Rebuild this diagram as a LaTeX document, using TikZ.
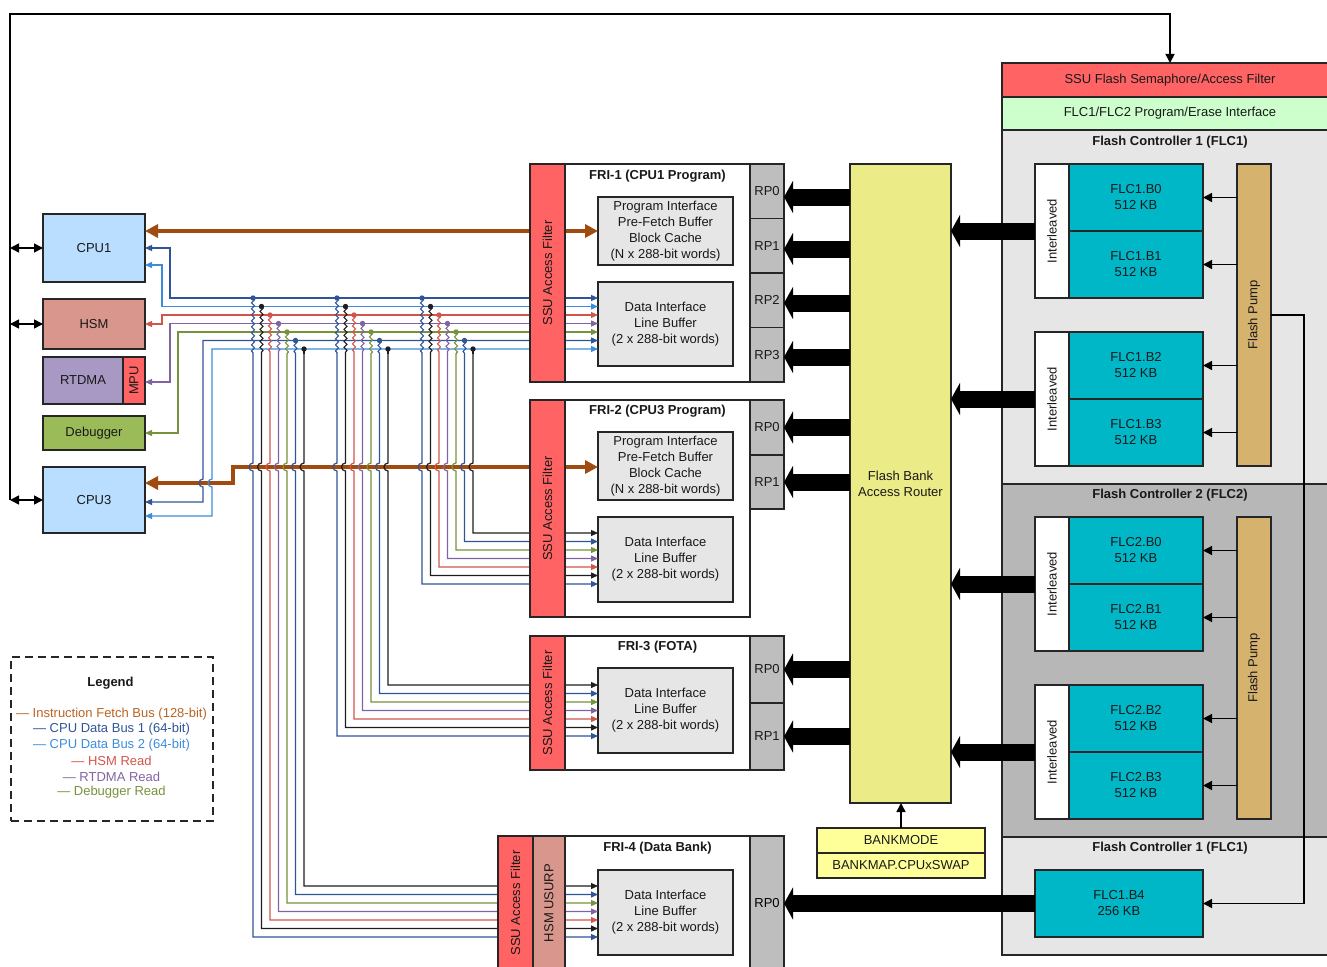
\documentclass[tikz,border=0pt]{standalone}
\usepackage{fontspec}
\setmainfont{Liberation Sans}
\usetikzlibrary{arrows.meta,decorations.pathmorphing}
\definecolor{cSSU}{RGB}{255,99,99}
\definecolor{cPE}{RGB}{204,255,204}
\definecolor{cFLl}{RGB}{230,230,230}
\definecolor{cFLd}{RGB}{183,183,183}
\definecolor{cBank}{RGB}{0,183,200}
\definecolor{cPump}{RGB}{213,178,110}
\definecolor{cRouter}{RGB}{235,235,135}
\definecolor{cBM}{RGB}{255,255,153}
\definecolor{cRP}{RGB}{190,190,190}
\definecolor{cBox}{RGB}{230,230,230}
\definecolor{cCPU}{RGB}{185,222,255}
\definecolor{cHSM}{RGB}{217,150,140}
\definecolor{cRTD}{RGB}{168,152,196}
\definecolor{cDBG}{RGB}{155,187,89}
\definecolor{cBrown}{RGB}{160,75,15}
\definecolor{cBrownT}{RGB}{185,100,35}
\definecolor{cDB}{RGB}{47,85,151}
\definecolor{cLB}{RGB}{60,140,220}
\definecolor{cRed}{RGB}{210,85,75}
\definecolor{cPur}{RGB}{128,100,162}
\definecolor{cGrn}{RGB}{118,146,60}
\definecolor{cBlk}{RGB}{30,30,30}
\newcommand\bx[7]{\node[box,#6,minimum width={#4-#2},minimum height={#5-#3}] (#1) at (#2,#3) {#7};}
\newcommand\busdrop[3]{%
  \foreach \k/\c in {1/cDB,2/cBlk,3/cRed,4/cPur,5/cGrn,6/cDB,7/cBlk}{%
    \pgfmathsetmacro\xx{#1+(\k-1)*8.5}%
    \pgfmathsetmacro\yk{298+(\k-1)*8.5}%
    \pgfmathsetmacro\tt{#2-(\k-1)*8.5}%
    \ifnum\k<7
      \draw[\c,thinw,decorate,decoration={snake,amplitude=1.5pt,segment length=6pt}] (\xx,\yk) -- (\xx,354);
    \else
      \draw[\c,thinw] (\xx,\yk) -- (\xx,354);
    \fi
    \draw[\c,thinw,-{Triangle[length=7pt,width=6pt]}] (\xx,354) -- (\xx,463) arc[start angle=90,end angle=270,radius=4pt] -- (\xx,\tt) -- (#3.west |- 0,\tt);
    \fill[\c] (\xx,\yk) circle[radius=2.7pt];
  }%
}
\begin{document}
\begin{tikzpicture}[x=1pt,y=-1pt,
  font=\fontsize{13}{16}\selectfont,
  box/.style={draw=black!85,line width=1.5pt,inner sep=0pt,outer sep=0pt,align=center,anchor=north west,text=black!90},
  title/.style={font=\fontsize{13}{16}\selectfont\bfseries,inner sep=0pt,text=black!90},
  rot/.style={rotate=90,inner sep=0pt,text=black!90},
  wire/.style={draw=black,line width=1.5pt},
  tip/.style={-{Triangle[length=9pt,width=9pt]}},
  dtip/.style={{Triangle[length=9pt,width=9pt]}-{Triangle[length=9pt,width=9pt]}},
  thinw/.style={line width=1.2pt},
  dthin/.style={thinw,{Triangle[length=7pt,width=6pt]}-{Triangle[length=7pt,width=6pt]}},
  fat/.style={draw=black,line width=17pt,-{Triangle[length=9pt,width=32pt]}},
  fetch/.style={draw=cBrown,line width=4pt,{Triangle[length=13pt,width=13pt]}-{Triangle[length=13pt,width=13pt]}},
  leg/.style={inner sep=0pt,font=\fontsize{13}{16}\selectfont}]
\useasboundingbox (0,0) rectangle (1327,966);

% ---------- right side: flash controllers ----------
\bx{ssuflash}{1002}{63}{1338}{97}{fill=cSSU}{SSU Flash Semaphore/Access Filter}
\bx{peif}{1002}{97}{1338}{130}{fill=cPE}{FLC1/FLC2 Program/Erase Interface}
\bx{flc1}{1002}{130}{1338}{484}{fill=cFLl}{}
\bx{flc2}{1002}{484}{1338}{837}{fill=cFLd}{}
\bx{flc1b}{1002}{837}{1338}{955}{fill=cFLl}{}
\node[title] (flc1t) at (1170,142) {Flash Controller 1 (FLC1)};
\node[title] (flc2t) at (1170,495) {Flash Controller 2 (FLC2)};
\node[title] (flc1bt) at (1170,848) {Flash Controller 1 (FLC1)};

\bx{il1}{1035}{164}{1069}{298}{fill=white}{}
\bx{il2}{1035}{332}{1069}{466}{fill=white}{}
\bx{il3}{1035}{517}{1069}{651}{fill=white}{}
\bx{il4}{1035}{685}{1069}{819}{fill=white}{}
\node[rot] (il1t) at (il1) {Interleaved};
\node[rot] (il2t) at (il2) {Interleaved};
\node[rot] (il3t) at (il3) {Interleaved};
\node[rot] (il4t) at (il4) {Interleaved};

\bx{b10}{1069}{164}{1203}{231}{fill=cBank}{FLC1.B0\\512 KB}
\bx{b11}{1069}{231}{1203}{298}{fill=cBank}{FLC1.B1\\512 KB}
\bx{b12}{1069}{332}{1203}{399}{fill=cBank}{FLC1.B2\\512 KB}
\bx{b13}{1069}{399}{1203}{466}{fill=cBank}{FLC1.B3\\512 KB}
\bx{b20}{1069}{517}{1203}{584}{fill=cBank}{FLC2.B0\\512 KB}
\bx{b21}{1069}{584}{1203}{651}{fill=cBank}{FLC2.B1\\512 KB}
\bx{b22}{1069}{685}{1203}{752}{fill=cBank}{FLC2.B2\\512 KB}
\bx{b23}{1069}{752}{1203}{819}{fill=cBank}{FLC2.B3\\512 KB}
\bx{b4}{1035}{870}{1203}{937}{fill=cBank}{FLC1.B4\\256 KB}

\bx{pump1}{1237}{164}{1271}{466}{fill=cPump}{}
\bx{pump2}{1237}{517}{1271}{819}{fill=cPump}{}
\node[rot] (pump1t) at (pump1) {Flash Pump};
\node[rot] (pump2t) at (pump2) {Flash Pump};
\foreach \b in {b10,b11,b12,b13}{\draw[wire,tip] (pump1.west |- \b.east) -- (\b.east);}
\foreach \b in {b20,b21,b22,b23}{\draw[wire,tip] (pump2.west |- \b.east) -- (\b.east);}
\coordinate (pl1) at (1304,315);
\draw[wire,tip] (pump1.east) -- (pl1) -- (pl1 |- b4.east) -- (b4.east);

% ---------- router ----------
\bx{router}{850}{164}{951}{803}{fill=cRouter}{Flash Bank\\Access Router}
\bx{bankmode}{817}{828}{985}{853}{fill=cBM}{BANKMODE}
\bx{bankmap}{817}{853}{985}{878}{fill=cBM}{BANKMAP.CPUxSWAP}
\draw[wire,tip] (bankmode.north) -- (bankmode.north |- router.south);

% ---------- FRI bodies ----------
\bx{fri1}{565}{164}{750}{382}{fill=white}{}
\bx{f1rp0}{750}{164}{784}{218.5}{fill=cRP}{RP0}
\bx{f1rp1}{750}{218.5}{784}{273}{fill=cRP}{RP1}
\bx{f1rp2}{750}{273}{784}{327.5}{fill=cRP}{RP2}
\bx{f1rp3}{750}{327.5}{784}{382}{fill=cRP}{RP3}
\node[title] (fri1t) at (657.5,176) {FRI-1 (CPU1 Program)};
\bx{fri1prog}{598}{197}{733}{265}{fill=cBox}{Program Interface\\Pre-Fetch Buffer\\Block Cache\\(N x 288-bit words)}
\bx{fri1data}{598}{282}{733}{366}{fill=cBox}{Data Interface\\Line Buffer\\(2 x 288-bit words)}

\bx{fri2}{565}{400}{750}{617}{fill=white}{}
\bx{f2rp0}{750}{400}{784}{455}{fill=cRP}{RP0}
\bx{f2rp1}{750}{455}{784}{509}{fill=cRP}{RP1}
\node[title] (fri2t) at (657.5,411) {FRI-2 (CPU3 Program)};
\bx{fri2prog}{598}{432}{733}{500}{fill=cBox}{Program Interface\\Pre-Fetch Buffer\\Block Cache\\(N x 288-bit words)}
\bx{fri2data}{598}{517}{733}{602}{fill=cBox}{Data Interface\\Line Buffer\\(2 x 288-bit words)}

\bx{fri3}{565}{636}{750}{770}{fill=white}{}
\bx{f3rp0}{750}{636}{784}{703}{fill=cRP}{RP0}
\bx{f3rp1}{750}{703}{784}{770}{fill=cRP}{RP1}
\node[title] (fri3t) at (657.5,647) {FRI-3 (FOTA)};
\bx{fri3data}{598}{668}{733}{753}{fill=cBox}{Data Interface\\Line Buffer\\(2 x 288-bit words)}

\bx{fri4}{565}{836}{750}{975}{fill=white}{}
\bx{f4rp0}{750}{836}{784}{975}{fill=cRP}{}
\node[inner sep=0pt] (f4rp0t) at (767,903) {RP0};
\node[title] (fri4t) at (657.5,848) {FRI-4 (Data Bank)};
\bx{fri4data}{598}{870}{733}{955}{fill=cBox}{Data Interface\\Line Buffer\\(2 x 288-bit words)}

% ---------- fat arrows ----------
\foreach \i in {il1,il2,il3,il4}{\draw[fat] (\i.west) -- (router.east |- \i.west);}
\foreach \r/\yy in {f1rp0/197,f1rp1/249,f1rp2/303,f1rp3/357}{\draw[fat] (router.west |- 0,\yy) -- (\r.east |- 0,\yy);}
\foreach \r in {f2rp0,f2rp1,f3rp0,f3rp1}{\draw[fat] (router.west |- \r.east) -- (\r.east);}
\draw[fat] (b4.west) -- (f4rp0.east |- b4.west);

% ---------- masters ----------
\bx{cpu1}{43}{214}{145}{282}{fill=cCPU}{CPU1}
\bx{hsm}{43}{299}{145}{349}{fill=cHSM}{HSM}
\bx{rtdma}{43}{357}{123}{404}{fill=cRTD}{RTDMA}
\bx{mpu}{123}{357}{145}{404}{fill=cSSU}{}
\node[rot] (mput) at (mpu) {MPU};
\bx{dbg}{43}{416}{145}{450}{fill=cDBG}{Debugger}
\bx{cpu3}{43}{467}{145}{533}{fill=cCPU}{CPU3}

\coordinate (busT) at (10,14);
\coordinate (busB) at (10,500);
\draw[wire,tip] (busB) -- (busT) -- (busT -| ssuflash.north) -- (ssuflash.north);
\draw[wire,dtip] (busT |- cpu1.west) -- (cpu1.west);
\draw[wire,dtip] (busT |- hsm.west) -- (hsm.west);
\draw[wire,dtip] (busB) -- (cpu3.west);

% ---------- instruction fetch buses ----------
\draw[fetch] (cpu1.east |- 0,231) -- (fri1prog.west |- 0,231);
\draw[fetch] (cpu3.east |- 0,483) -- (233,483) -- (233,467) -- (fri2prog.west |- 0,467);

% ---------- data buses to FRI-1 ----------
\draw[cDB,dthin] (cpu1.east |- 0,248) -- (170,248) -- (170,298) -- (fri1data.west |- 0,298);
\draw[cLB,dthin] (cpu1.east |- 0,265) -- (162,265) -- (162,306.5) -- (fri1data.west |- 0,306.5);
\draw[cRed,dthin] (hsm.east |- 0,324) -- (162,324) -- (162,315) -- (fri1data.west |- 0,315);
\draw[cPur,dthin] (mpu.east |- 0,382) -- (170,382) -- (170,323.5) -- (fri1data.west |- 0,323.5);
\draw[cGrn,dthin] (dbg.east |- 0,433) -- (178,433) -- (178,332) -- (fri1data.west |- 0,332);
\draw[cDB,dthin] (cpu3.east |- 0,502) -- (203,502) -- (203,487) arc[start angle=270,end angle=90,radius=4pt] -- (203,340.5) -- (fri1data.west |- 0,340.5);
\draw[cLB,dthin] (cpu3.east |- 0,516) -- (212,516) -- (212,487) arc[start angle=270,end angle=90,radius=4pt] -- (212,349) -- (fri1data.west |- 0,349);

% ---------- drops to FRI-2/3/4 ----------
\busdrop{422}{584}{fri2data}
\busdrop{337}{736}{fri3data}
\busdrop{253}{937}{fri4data}

% ---------- access filters (on top of buses) ----------
\bx{f1f}{530}{164}{565}{382}{fill=cSSU}{}
\node[rot] (f1ft) at (f1f) {SSU Access Filter};
\bx{f2f}{530}{400}{565}{617}{fill=cSSU}{}
\node[rot] (f2ft) at (f2f) {SSU Access Filter};
\bx{f3f}{530}{636}{565}{770}{fill=cSSU}{}
\node[rot] (f3ft) at (f3f) {SSU Access Filter};
\bx{f4f}{498}{836}{533}{975}{fill=cSSU}{}
\node[rot] (f4ft) at (515.5,903) {SSU Access Filter};
\bx{f4u}{533}{836}{565}{975}{fill=cHSM}{}
\node[rot] (f4ut) at (549,903) {HSM USURP};

% ---------- legend ----------
\node[draw=black!85,line width=1.5pt,dash pattern=on 8pt off 5pt,minimum width=202,minimum height=164,anchor=north west,inner sep=0pt] (legend) at (10,656) {};
\node[title] (legt) at (110.5,683) {Legend};
\node[leg,text=cBrownT] (lg1) at (111.5,714) {— Instruction Fetch Bus (128-bit)};
\node[leg,text=cDB] (lg2) at (111.5,729.5) {— CPU Data Bus 1 (64-bit)};
\node[leg,text=cLB] (lg3) at (111.5,745.5) {— CPU Data Bus 2 (64-bit)};
\node[leg,text=cRed] (lg4) at (111.5,761) {— HSM Read};
\node[leg,text=cPur] (lg5) at (111.5,777) {— RTDMA Read};
\node[leg,text=cGrn] (lg6) at (111.5,792.5) {— Debugger Read};
\end{tikzpicture}
\end{document}
